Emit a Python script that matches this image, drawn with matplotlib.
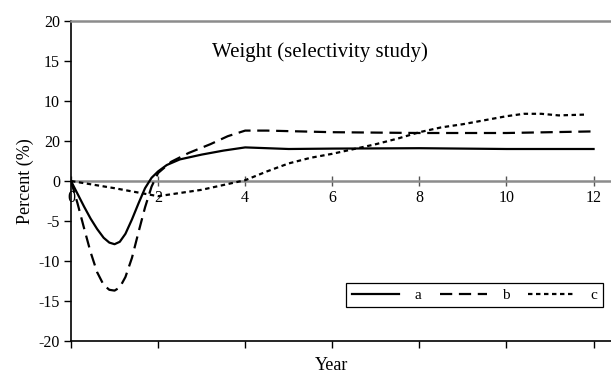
import matplotlib
matplotlib.use("Agg")
import matplotlib.pyplot as plt

plt.rcParams['font.family'] = ['Liberation Serif', 'DejaVu Serif']

# data
years_a = [0, 0.15, 0.3, 0.45, 0.6, 0.75, 0.88, 1.0, 1.12, 1.25, 1.4, 1.55, 1.7, 1.85, 2.0,
           2.2, 2.5, 3.0, 3.5, 4.0, 4.5, 5, 6, 8, 10, 12]
pct_a = [0, -1.6, -3.2, -4.7, -6.0, -7.1, -7.7, -7.9, -7.6, -6.6, -4.8, -2.8, -0.9, 0.4, 1.2,
         2.0, 2.7, 3.3, 3.8, 4.2, 4.1, 4.0, 4.05, 4.1, 4.0, 4.0]

years_b = [0, 0.15, 0.3, 0.45, 0.6, 0.75, 0.88, 1.0, 1.12, 1.25, 1.4, 1.55, 1.7, 1.85, 2.0,
           2.3, 2.7, 3.2, 3.6, 4.0, 4.5, 6, 8, 10, 12]
pct_b = [0, -2.8, -5.9, -8.9, -11.4, -13.0, -13.6, -13.7, -13.3, -12.0, -9.6, -6.4, -3.3, -0.7, 1.0,
         2.4, 3.5, 4.6, 5.6, 6.3, 6.3, 6.1, 6.0, 6.0, 6.2]

years_c = [0, 1, 2, 3, 4, 4.5, 5, 5.5, 6, 6.5, 7, 7.5, 8, 8.5, 9, 9.5, 10, 10.4, 10.8, 11.2, 11.8]
pct_c = [0, -0.9, -1.9, -1.1, 0.1, 1.2, 2.2, 2.9, 3.4, 4.0, 4.6, 5.3, 6.1, 6.7, 7.1, 7.6, 8.1, 8.4, 8.4, 8.2, 8.3]

x_ticks = [0, 2, 4, 6, 8, 10, 12]
y_ticks = [20, 15, 10, 5, 0, -5, -10, -15, -20]
y_tick_labels = ["20", "15", "10", "20", "0", "-5", "-10", "-15", "-20"]

fig = plt.figure(figsize=(6.11, 3.73), dpi=100)
ax = fig.add_axes([71 / 611, 32 / 373, 540 / 611, 320 / 373])

ax.plot(years_a, pct_a, color='black', lw=1.6, label='a')
ax.plot(years_b, pct_b, color='black', lw=1.6, dashes=(5.5, 3), label='b')
ax.plot(years_c, pct_c, color='black', lw=1.6, dashes=(2, 1.6), label='c')

ax.set_xlim(0, 12.4)
ax.set_ylim(-20, 20)

ax.spines['right'].set_visible(False)
ax.spines['top'].set_color('#8c8c8c')
ax.spines['top'].set_linewidth(1.8)
ax.spines['left'].set_linewidth(1.2)
ax.spines['bottom'].set_linewidth(1.2)

ax.set_yticks(y_ticks)
ax.set_yticklabels(y_tick_labels, fontsize=11.5)
ax.set_xticks(x_ticks)
ax.tick_params(axis='x', labelbottom=False, direction='out', length=5, width=1)
ax.tick_params(axis='y', direction='out', length=5, width=1, pad=3)

# x axis through zero with the tick labels below it
zax = ax.secondary_xaxis(0.5)
zax.xaxis.set_ticks_position('bottom')
for side in ('top', 'bottom'):
    zax.spines[side].set_color('#8c8c8c')
    zax.spines[side].set_linewidth(1.8)
zax.set_xticks(x_ticks)
zax.tick_params(direction='inout', length=7, width=1, color='#555555', labelsize=11.5, pad=3,
                labelbottom=True, labeltop=False, bottom=True, top=False)

ax.set_ylabel('Percent (%)', fontsize=13, labelpad=3)
fig.text(332 / 611, 1 - 365 / 373, 'Year', fontsize=13, ha='center', va='center')
ax.text(5.72, 16.1, 'Weight (selectivity study)', fontsize=15, ha='center', va='center')

leg = ax.legend(ncol=3, loc='upper right', bbox_to_anchor=(603 / 611, 1 - 283 / 373),
                bbox_transform=fig.transFigure, fontsize=11, handlelength=3.1,
                columnspacing=1.2, handletextpad=1.0, borderpad=0.35, borderaxespad=0,
                fancybox=False, framealpha=1)
leg.get_frame().set_edgecolor('black')
leg.get_frame().set_linewidth(0.9)

fig.savefig('out.png', dpi=100)
